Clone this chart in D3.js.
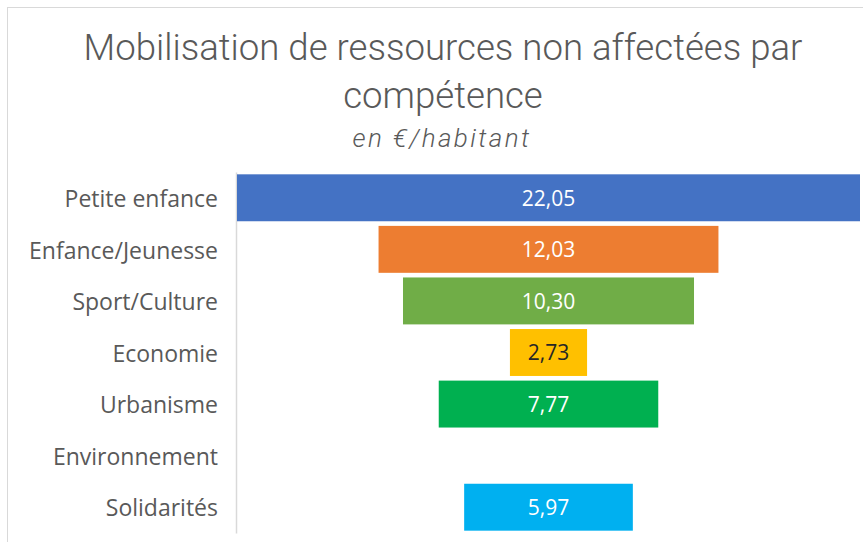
<!DOCTYPE html>
<html><head><meta charset="utf-8">
<script src="https://cdn.jsdelivr.net/npm/d3@7"></script>
<style>body{margin:0;background:#fff}svg{display:block}</style>
</head><body><svg id="c" width="863" height="542"></svg>
<script>
const categories = ["Petite enfance","Enfance/Jeunesse","Sport/Culture","Economie","Urbanisme","Environnement","Solidarités"];
const values = [22.05, 12.03, 10.30, 2.73, 7.77, null, 5.97];
const valueLabels = ["22,05","12,03","10,30","2,73","7,77","","5,97"];
const colors = ["#4472C4","#ED7D31","#70AD47","#FFC000","#00B050","#A5A5A5","#00B0F0"];
const titleLines = ["Mobilisation de ressources non affectées par","compétence"];
const subtitle = "en €/habitant";

const svg = d3.select("#c");
svg.append("rect").attr("x",7.5).attr("y",7.5).attr("width",900).attr("height",600)
  .attr("fill","#fff").attr("stroke","#D9D9D9");

const left = 237, right = 860, center = (left+right)/2;
const x = d3.scaleLinear().domain([0, d3.max(values)]).range([0, right-left]);
const y = d3.scaleBand().domain(categories).range([172, 533]).paddingInner(0.09).paddingOuter(0.045);

svg.append("g").attr("font-family","Roboto").attr("font-weight",300).attr("fill","#595959")
  .attr("text-anchor","middle")
  .selectAll("text").data(titleLines).join("text")
  .attr("x",443).attr("y",(d,i)=>60+i*48).attr("font-size",36.6).text(d=>d);
svg.append("text").attr("x",442).attr("y",147).attr("text-anchor","middle")
  .attr("font-family","Roboto").attr("font-weight",300).attr("font-style","italic")
  .attr("font-size",26).attr("letter-spacing",2.4).attr("fill","#595959").text(subtitle);

const ax = svg.append("g").attr("transform",`translate(${left-1},0)`)
  .call(d3.axisLeft(y).tickSize(0).tickPadding(18));
ax.select(".domain").attr("stroke","#D9D9D9").attr("stroke-width",1.5);
ax.selectAll("text").attr("font-family","'Open Sans', sans-serif").attr("font-size",23)
  .attr("dy","0.4em").attr("fill","#595959");

const data = categories.map((c,i)=>({c, v:values[i], l:valueLabels[i], col:colors[i]})).filter(d=>d.v!=null);
svg.append("g").selectAll("rect").data(data).join("rect")
  .attr("x",d=>center - x(d.v)/2).attr("width",d=>x(d.v))
  .attr("y",d=>y(d.c)).attr("height",y.bandwidth()).attr("fill",d=>d.col);
svg.append("g").selectAll("text").data(data).join("text")
  .attr("x",center).attr("y",d=>y(d.c)+y.bandwidth()/2).attr("dy","0.37em")
  .attr("text-anchor","middle").attr("font-family","'Open Sans', sans-serif").attr("font-size",21)
  .attr("fill",d=>d.c==="Economie"?"#262626":"#fff").text(d=>d.l);
</script></body></html>
